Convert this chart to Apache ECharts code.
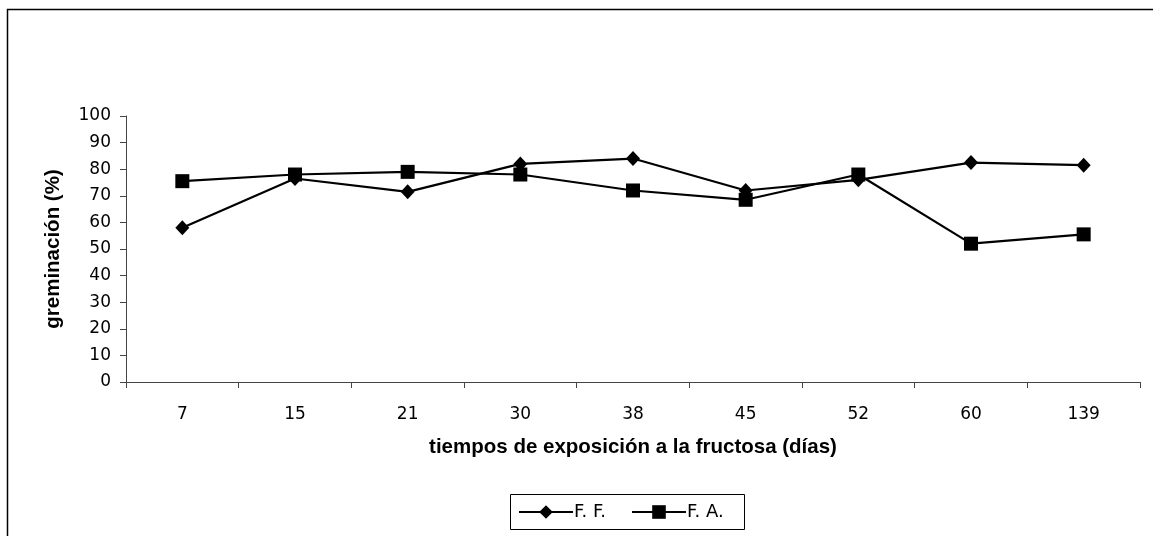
<!DOCTYPE html>
<html>
<head>
<meta charset="utf-8">
<script src="https://cdn.jsdelivr.net/npm/echarts@6/dist/echarts.min.js"></script>
<style>
html,body{margin:0;padding:0;background:#fff;}
#chart{width:1153px;height:536px;}
</style>
</head>
<body>
<div id="chart"></div>
<script>
const categories = ['7','15','21','30','38','45','52','60','139'];
const seriesFF = [58, 76.5, 71.5, 82, 84, 72, 76, 82.5, 81.5];
const seriesFA = [75.5, 78, 79, 78, 72, 68.5, 78, 52, 55.5];
const yTicks = {min: 0, max: 100, interval: 10};
const FONT = '"DejaVu Sans", sans-serif';
const FONT_B = '"Liberation Sans", Arial, sans-serif';

const legendCommon = {
  orient: 'horizontal',
  padding: 0,
  itemGap: 0,
  itemWidth: 54, itemHeight: 17,
  lineStyle: {width: 2, color: '#000'},
  textStyle: {fontFamily: FONT, fontSize: 18, color: '#000', padding: [0, 0, 0, -4]}
};

const chart = echarts.init(document.getElementById('chart'), null, {renderer: 'canvas'});
chart.setOption({
  backgroundColor: '#fff',
  animation: false,
  textStyle: {fontFamily: FONT, color: '#000'},
  graphic: [{
    type: 'rect',
    shape: {x: 7.5, y: 9.5, width: 1300, height: 700},
    style: {fill: 'none', stroke: '#000', lineWidth: 1.5},
    silent: true
  }, {
    type: 'rect',
    shape: {x: 510.5, y: 494.5, width: 234, height: 35},
    style: {fill: 'none', stroke: '#000', lineWidth: 1},
    silent: true
  }],
  grid: {left: 126, top: 116, right: 13, bottom: 154, containLabel: false},
  legend: [
    Object.assign({left: 518, top: 503, data: ['F. F.']}, legendCommon),
    Object.assign({left: 631, top: 503, data: ['F. A.']}, legendCommon)
  ],
  xAxis: {
    type: 'category',
    data: categories,
    boundaryGap: true,
    name: 'tiempos de exposición a la fructosa (días)',
    nameLocation: 'middle',
    nameGap: 55,
    nameTextStyle: {fontFamily: FONT_B, fontSize: 20.5, fontWeight: 'bold', color: '#000'},
    axisLine: {lineStyle: {color: '#444', width: 1}},
    axisTick: {show: true, length: 6, lineStyle: {color: '#444'}},
    axisLabel: {fontFamily: FONT, fontSize: 17, color: '#000', margin: 24},
    splitLine: {show: false}
  },
  yAxis: {
    type: 'value',
    min: yTicks.min, max: yTicks.max, interval: yTicks.interval,
    name: 'greminación (%)',
    nameLocation: 'middle',
    nameGap: 62,
    nameRotate: 90,
    nameTextStyle: {fontFamily: FONT_B, fontSize: 20.5, fontWeight: 'bold', color: '#000'},
    axisLine: {show: true, lineStyle: {color: '#444', width: 1}},
    axisTick: {show: true, length: 6, lineStyle: {color: '#444'}},
    axisLabel: {fontFamily: FONT, fontSize: 17, color: '#000', margin: 15},
    splitLine: {show: false}
  },
  series: [
    {
      name: 'F. F.', type: 'line', data: seriesFF,
      symbol: 'diamond', symbolSize: [14, 15],
      lineStyle: {color: '#000', width: 2.2},
      itemStyle: {color: '#000'}
    },
    {
      name: 'F. A.', type: 'line', data: seriesFA,
      symbol: 'rect', symbolSize: [14, 14],
      lineStyle: {color: '#000', width: 2.2},
      itemStyle: {color: '#000'}
    }
  ]
});
</script>
</body>
</html>
